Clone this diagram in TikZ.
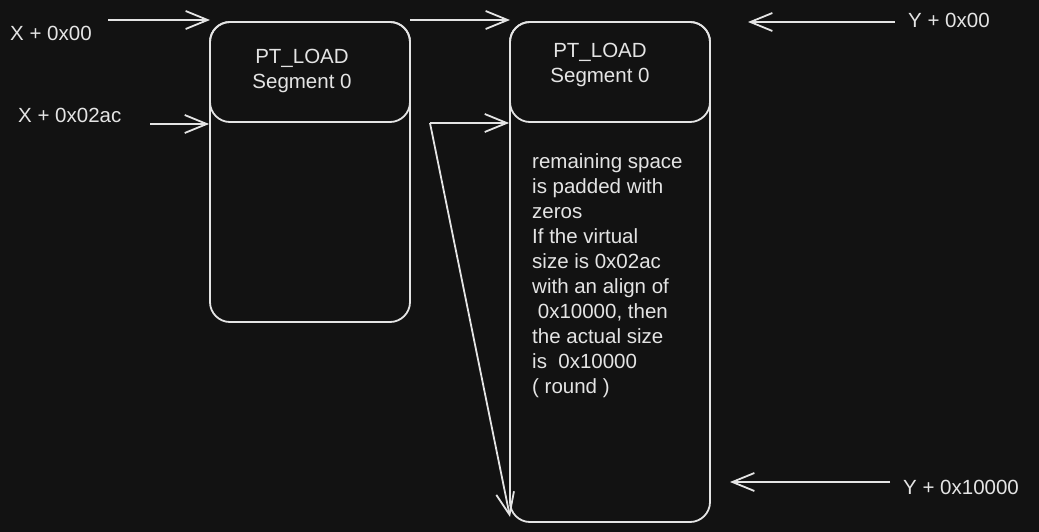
\documentclass[tikz,border=0pt]{standalone}
\usepackage{fontspec}
\setmainfont{Liberation Sans}
\usetikzlibrary{arrows.meta}
\definecolor{bg}{HTML}{121212}
\definecolor{ink}{HTML}{E4E4E4}
\tikzset{
  box/.style={draw=ink, line width=1.8pt, rounded corners=20pt, inner sep=0pt},
  lbl/.style={text=ink, font=\fontsize{20.5}{22}\selectfont, inner sep=0pt},
  arr/.style={draw=ink, line width=1.8pt, -{Straight Barb[length=22pt,width=18pt,line width=1.8pt]}},
}
\begin{document}
\begin{tikzpicture}[x=1pt,y=-1pt]
\fill[bg] (0,0) rectangle (1039,532);
\useasboundingbox (0,0) rectangle (1039,532);
% left column
\node[box, minimum width=200pt, minimum height=300pt] (L) at (310,172) {};
\node[box, minimum width=200pt, minimum height=100pt] (LH) at (310,72) {};
\node[lbl, align=center, font=\fontsize{20.5}{25}\selectfont] (LT) at (302,71) {PT\_LOAD\\Segment 0};
% right column
\node[box, minimum width=200pt, minimum height=500pt] (R) at (610,272) {};
\node[box, minimum width=200pt, minimum height=100pt] (RH) at (610,72) {};
\node[lbl, align=center, font=\fontsize{20.5}{25}\selectfont] (RT) at (600,65) {PT\_LOAD\\Segment 0};
\node[lbl, anchor=north west, align=left, font=\fontsize{20.5}{25}\selectfont] (body) at (532,153)
 {remaining space\\is padded with\\zeros\\If the virtual\\size is 0x02ac\\with an align of\\\ 0x10000, then\\the actual size\\is\ \ 0x10000\\( round )};
% labels
\node[lbl, anchor=west] (x0) at (10,33) {X + 0x00};
\node[lbl, anchor=west] (x1) at (18,115) {X + 0x02ac};
\node[lbl, anchor=west] (y0) at (908,20) {Y + 0x00};
\node[lbl, anchor=west] (y1) at (903,487) {Y + 0x10000};
% arrows
\coordinate (a1) at (108,20);
\coordinate (a1e) at (210,20);
\draw[arr] (a1) -- (a1e);
\coordinate (a2) at (410,20);
\coordinate (a2e) at (510,20);
\draw[arr] (a2) -- (a2e);
\coordinate (a3) at (150,124);
\draw[arr] (a3) -- (a3 -| L.west);
\coordinate (e) at (430,123);
\draw[arr] (e) -- (e -| R.west);
\coordinate (ee) at (510,517);
\draw[arr] (e) -- (ee);
\coordinate (a5) at (895,22);
\coordinate (a5e) at (748,22);
\draw[arr] (a5) -- (a5e);
\coordinate (a6) at (890,482);
\coordinate (a6e) at (730,482);
\draw[arr] (a6) -- (a6e);
\end{tikzpicture}
\end{document}
